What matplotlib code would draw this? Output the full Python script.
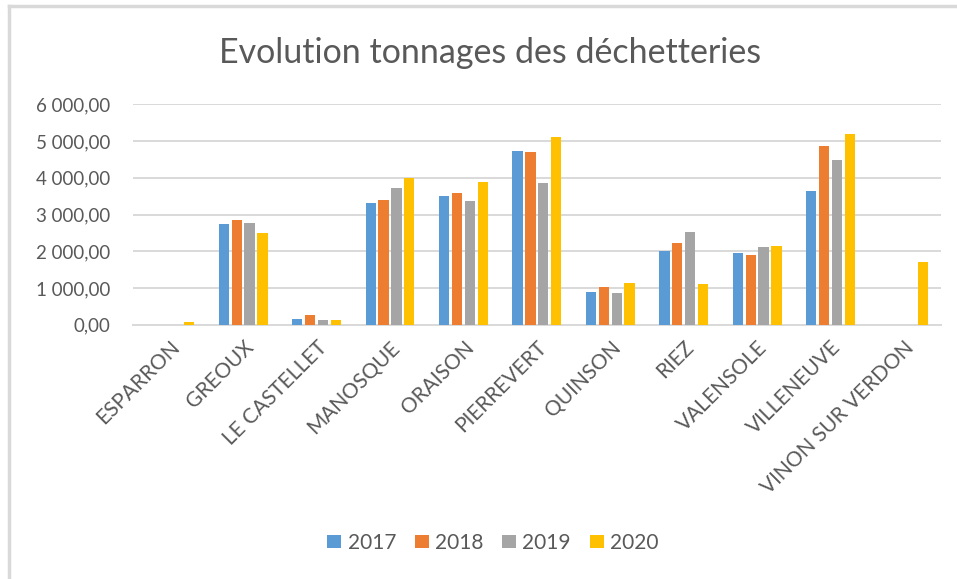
import numpy as np
import matplotlib
matplotlib.use("Agg")
import matplotlib.pyplot as plt
from matplotlib.ticker import FuncFormatter, MultipleLocator
from matplotlib.lines import Line2D

plt.rcParams['font.family'] = ['Lato', 'DejaVu Sans']

# Data
sites = ["ESPARRON", "GREOUX", "LE CASTELLET", "MANOSQUE", "ORAISON", "PIERREVERT",
         "QUINSON", "RIEZ", "VALENSOLE", "VILLENEUVE", "VINON SUR VERDON"]
years = ["2017", "2018", "2019", "2020"]
t2017 = [0, 2740, 155, 3310, 3500, 4730, 890, 2005, 1950, 3640, 0]
t2018 = [0, 2850, 265, 3395, 3585, 4700, 1025, 2225, 1900, 4865, 0]
t2019 = [0, 2770, 125, 3720, 3365, 3855, 860, 2525, 2115, 4485, 0]
t2020 = [70, 2495, 125, 3995, 3885, 5110, 1135, 1105, 2140, 5190, 1705]
colors = ["#5B9BD5", "#ED7D31", "#A5A5A5", "#FFC000"]

txt = "#595959"
grid = "#D9D9D9"

fig = plt.figure(figsize=(9.57, 5.79), dpi=100)
ax = fig.add_axes([0.139, 0.439, 0.844, 0.381])

x = np.arange(len(sites))
w = 0.14
step = 0.175
for i, (vals, c, yr) in enumerate(zip([t2017, t2018, t2019, t2020], colors, years)):
    ax.bar(x + (i - 1.5) * step, vals, width=w, color=c, label=yr, zorder=3)

ax.set_xlim(-0.5, len(sites) - 0.5)
ax.set_ylim(0, 6000)
ax.yaxis.set_major_locator(MultipleLocator(1000))
ax.yaxis.set_major_formatter(FuncFormatter(
    lambda v, p: f"{v:,.2f}".replace(",", " ").replace(".", ",")))
ax.grid(axis="y", color=grid, linewidth=1.4, zorder=0)
for s in ["top", "right", "left"]:
    ax.spines[s].set_visible(False)
ax.spines["bottom"].set_color(grid)
ax.spines["bottom"].set_linewidth(1.4)
ax.tick_params(axis="both", length=0, colors=txt)
ax.tick_params(axis="y", pad=16.5, labelsize=13.5)
ax.tick_params(axis="x", pad=9, labelsize=15)
ax.set_xticks(x)
ax.set_xticklabels(sites, rotation=45, ha="right", rotation_mode="anchor")

fig.text(0.512, 0.891, "Evolution tonnages des déchetteries", ha="center", va="baseline",
         fontsize=24.5, color=txt)

fig.legend(loc="center", bbox_to_anchor=(0.515, 0.062), ncol=4, frameon=False,
           fontsize=15, labelcolor=txt, handlelength=0.67, handleheight=0.6,
           handletextpad=0.3, columnspacing=0.9)

# outer chart frame (left and top edges visible)
fig.add_artist(Line2D([0.0095, 0.0095], [0, 0.99], transform=fig.transFigure,
                      color=grid, linewidth=2.5))
fig.add_artist(Line2D([0.0095, 1.0], [0.99, 0.99], transform=fig.transFigure,
                      color=grid, linewidth=2.5))

fig.savefig("out.png", dpi=100)
